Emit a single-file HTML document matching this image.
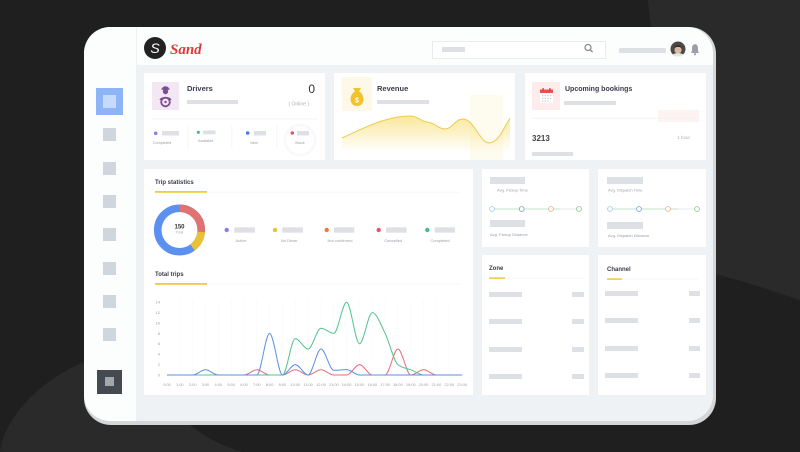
<!DOCTYPE html>
<html><head><meta charset="utf-8"><style>
html,body{margin:0;padding:0;background:#1f1f1f;}
svg{display:block;}
text{font-family:"Liberation Sans",sans-serif;}
</style></head><body>
<svg width="800" height="452" viewBox="0 0 800 452" xmlns="http://www.w3.org/2000/svg">
<defs>
<clipPath id="tab"><rect x="84" y="27" width="629" height="394" rx="26"/></clipPath>
<linearGradient id="rev" x1="0" y1="116" x2="0" y2="152" gradientUnits="userSpaceOnUse">
<stop offset="0" stop-color="#f5d44a" stop-opacity="0.55"/>
<stop offset="1" stop-color="#f5d44a" stop-opacity="0"/>
</linearGradient>
</defs>
<rect width="800" height="452" fill="#1f1f1f"/>
<path d="M648,0 L800,0 L800,300 C770,290 740,280 700,270 L660,80 C655,50 650,25 648,0 Z" fill="#2a2a2a"/>
<path d="M0,452 C3,425 30,385 84,362 L150,345 L150,420 L190,425 C210,440 225,447 242,452 Z" fill="#2a2a2a"/>

<!-- tablet -->
<rect x="84" y="27" width="632" height="398" rx="27" fill="#d4d6d8"/>
<rect x="84" y="27" width="629" height="394" rx="26" fill="#fcfdfd"/>
<g clip-path="url(#tab)">
<rect x="137" y="65" width="576" height="356" fill="#eef2f5"/>
<rect x="136" y="27" width="1" height="394" fill="#eef1f4"/>
</g>

<!-- sidebar -->
<rect x="96" y="88" width="27" height="27" fill="#8db5f6"/>
<rect x="103" y="95" width="13" height="13" fill="#c6dafb"/>
<rect x="103" y="128" width="13" height="13" fill="#d0d6dd"/>
<rect x="103" y="162" width="13" height="13" fill="#d0d6dd"/>
<rect x="103" y="195" width="13" height="13" fill="#d0d6dd"/>
<rect x="103" y="228" width="13" height="13" fill="#d0d6dd"/>
<rect x="103" y="262" width="13" height="13" fill="#d0d6dd"/>
<rect x="103" y="295" width="13" height="13" fill="#d0d6dd"/>
<rect x="103" y="328" width="13" height="13" fill="#d0d6dd"/>
<rect x="97" y="370" width="25" height="24" fill="#454a50"/>
<rect x="105" y="377" width="9" height="9" fill="#a3a7ab"/>

<!-- header -->
<circle cx="155" cy="48" r="11" fill="#222"/>
<text x="155" y="53" font-family="Liberation Serif" font-style="italic" font-size="14" fill="#fff" text-anchor="middle">S</text>
<text x="170" y="54" style="font-family:'Liberation Serif',serif" font-style="italic" font-weight="bold" font-size="15" fill="#d93a3a">Sand</text>
<rect x="432.5" y="41.5" width="173" height="17" fill="#fff" stroke="#e8ecef"/>
<rect x="442" y="47" width="23" height="5" fill="#dde1e6"/>
<circle cx="588" cy="47.5" r="3" fill="none" stroke="#8a8f95" stroke-width="1.3"/>
<line x1="590.2" y1="49.7" x2="592.6" y2="52.1" stroke="#8a8f95" stroke-width="1.4"/>
<rect x="619" y="48" width="47" height="5" rx="1" fill="#dde1e6"/>
<circle cx="678" cy="49" r="7.5" fill="#4d4844"/>
<circle cx="678" cy="50" r="3.6" fill="#d9b9a2"/>
<path d="M674.5,48 C675,44.5 681,44.5 681.5,48 C680,46.5 676,46.5 674.5,48 Z" fill="#2e2a27"/>
<path d="M672.5,55 C674,52.5 682,52.5 683.5,55 L681,56.5 L675,56.5 Z" fill="#e6e6e6"/>
<path d="M691,53 L699,53 L698,51 L698,48 C698,45.5 696.5,44.3 695,44.3 C693.5,44.3 692,45.5 692,48 L692,51 Z" fill="#9aa0a6"/>
<circle cx="695" cy="54.2" r="1.1" fill="#9aa0a6"/>

<!-- cards row 1 -->
<rect x="144" y="73" width="181" height="87" fill="#fff"/>
<rect x="334" y="73" width="181" height="87" fill="#fff"/>
<rect x="525" y="73" width="181" height="87" fill="#fff"/>

<!-- drivers -->
<rect x="152" y="82" width="27" height="28" fill="#f3e7f3"/>
<path d="M162,89 C162,85.5 169,85.5 169,89 Z" fill="#7a4d8f"/>
<rect x="161.5" y="88.5" width="8" height="1.3" fill="#7a4d8f"/>
<circle cx="165.5" cy="91.5" r="2.7" fill="#7a4d8f"/>
<path d="M159.5,100 C160,96 171,96 171.5,100 Z" fill="#7a4d8f"/>
<circle cx="165.5" cy="102" r="4.3" fill="#f3e7f3" stroke="#7a4d8f" stroke-width="1.8"/>
<circle cx="165.5" cy="102" r="1.2" fill="#7a4d8f"/>
<text x="187" y="91" font-size="7.5" font-weight="bold" fill="#3b3b4a">Drivers</text>
<rect x="187" y="100" width="51" height="4" fill="#dde1e6"/>
<text x="315" y="93" font-size="12" fill="#333" text-anchor="end">0</text>
<text x="309" y="105.5" font-size="5" fill="#aab0b6" text-anchor="end">( Online )</text>
<circle cx="300" cy="140" r="15" fill="none" stroke="#f9f9fa" stroke-width="3"/>
<rect x="152" y="118.5" width="166" height="0.8" fill="#f0f1f3"/>
<rect x="187.5" y="125" width="0.7" height="23" fill="#f0f1f3"/>
<rect x="231.5" y="125" width="0.7" height="23" fill="#f0f1f3"/>
<rect x="276.5" y="125" width="0.7" height="23" fill="#f0f1f3"/>
<circle cx="155.7" cy="133.3" r="1.8" fill="#8a7fe0"/>
<rect x="162" y="131" width="17" height="4.5" fill="#dde1e6"/>
<text x="162" y="144" font-size="3.8" fill="#9aa0a6" text-anchor="middle">Completed</text>
<circle cx="198.3" cy="132.3" r="1.6" fill="#3fbf8f"/>
<rect x="203" y="130.5" width="12.5" height="3.8" fill="#dde1e6"/>
<text x="205.7" y="142" font-size="3.8" fill="#9aa0a6" text-anchor="middle">Available</text>
<circle cx="247.7" cy="133" r="1.8" fill="#4a7de0"/>
<rect x="254" y="131" width="12" height="4.5" fill="#dde1e6"/>
<text x="254" y="144" font-size="3.8" fill="#9aa0a6" text-anchor="middle">New</text>
<circle cx="292.3" cy="133" r="1.8" fill="#e8556a"/>
<rect x="297" y="131" width="12" height="4.5" fill="#dde1e6"/>
<text x="300" y="144" font-size="3.8" fill="#9aa0a6" text-anchor="middle">Block</text>

<!-- revenue -->
<rect x="342" y="77" width="30" height="34" fill="#fdf8e8"/>
<rect x="470" y="95" width="33" height="65" fill="#fefbef"/>
<path d="M353,88 L361,88 L359,91.5 L355,91.5 Z" fill="#f3c32e"/>
<path d="M355,91.5 L359,91.5 C365,94 365.5,106 357,106 C348.5,106 349,94 355,91.5 Z" fill="#f3c32e"/>
<text x="357" y="102.5" font-size="7" font-weight="bold" fill="#fff" text-anchor="middle">$</text>
<text x="377" y="91" font-size="7.5" font-weight="bold" fill="#3b3b4a">Revenue</text>
<rect x="377" y="100" width="52" height="4" fill="#dde1e6"/>
<path d="M342,138 C360,130 385,116 410,116 C418,116 420,121 427,122 C436,123 438,129 445,129 C452,129 455,119 463,119 C474,119 480,143 489,143 C499,143 505,125 510,118 L510,152 L342,152 Z" fill="url(#rev)"/>
<path d="M342,138 C360,130 385,116 410,116 C418,116 420,121 427,122 C436,123 438,129 445,129 C452,129 455,119 463,119 C474,119 480,143 489,143 C499,143 505,125 510,118" fill="none" stroke="#ebcb4f" stroke-width="1"/>

<!-- upcoming bookings -->
<rect x="532" y="82" width="28" height="28" fill="#fdeceb"/>
<rect x="540" y="92" width="13" height="11" fill="#fff"/>
<rect x="540" y="89.5" width="13" height="3.5" fill="#e8524f"/>
<rect x="542.5" y="88" width="1.2" height="3" fill="#c43c3a"/>
<rect x="549.3" y="88" width="1.2" height="3" fill="#c43c3a"/>
<g fill="#c9cdd2">
<rect x="542" y="95" width="1.4" height="1.2"/><rect x="544.6" y="95" width="1.4" height="1.2"/><rect x="547.2" y="95" width="1.4" height="1.2"/><rect x="549.8" y="95" width="1.4" height="1.2"/>
<rect x="542" y="97.8" width="1.4" height="1.2"/><rect x="544.6" y="97.8" width="1.4" height="1.2"/><rect x="547.2" y="97.8" width="1.4" height="1.2"/><rect x="549.8" y="97.8" width="1.4" height="1.2"/>
<rect x="542" y="100.4" width="1.4" height="1.2"/><rect x="544.6" y="100.4" width="1.4" height="1.2"/><rect x="547.2" y="100.4" width="1.4" height="1.2"/>
</g>
<text x="565" y="91" font-size="7" font-weight="bold" fill="#3b3b4a">Upcoming bookings</text>
<rect x="564" y="101" width="52" height="4" fill="#dde1e6"/>
<rect x="658" y="110" width="41" height="12" fill="#fdf3f3"/>
<rect x="532" y="117.8" width="168" height="0.8" fill="#f0f1f3"/>
<text x="532" y="141" font-size="8" font-weight="bold" fill="#444">3213</text>
<text x="690" y="139" font-size="4.5" fill="#aab0b6" text-anchor="end">1 hour</text>
<rect x="532" y="152" width="41" height="4" fill="#dde1e6"/>

<!-- trip statistics card -->
<rect x="144" y="169" width="329" height="226" fill="#fff"/>
<text x="155" y="184" font-size="6" font-weight="bold" fill="#3b3b4a">Trip statistics</text>
<rect x="155" y="191.8" width="305" height="0.7" fill="#f2f3f5"/>
<rect x="155" y="191" width="52" height="1.8" fill="#f2cb3a"/>
<g transform="rotate(-90 179.5 230)">
<circle cx="179.5" cy="230" r="21.75" fill="none" stroke="#5b8ff0" stroke-width="7.6"/>
<circle cx="179.5" cy="230" r="21.75" fill="none" stroke="#e07272" stroke-width="7.6" stroke-dasharray="36.1 200"/>
<circle cx="179.5" cy="230" r="21.75" fill="none" stroke="#e8c232" stroke-width="7.6" stroke-dasharray="0 36.1 18.2 200"/>
</g>
<text x="179.5" y="228.5" font-size="6" font-weight="bold" fill="#333" text-anchor="middle">150</text>
<text x="179.5" y="233.5" font-size="3.5" fill="#aab0b6" text-anchor="middle">Total</text>

<circle cx="226.7" cy="230" r="2.2" fill="#8a7fe0"/>
<rect x="234.3" y="227.3" width="20.7" height="5.4" fill="#dde1e6"/>
<text x="241" y="242" font-size="4" fill="#9aa0a6" text-anchor="middle">Active</text>
<circle cx="275" cy="230" r="2.2" fill="#e8c232"/>
<rect x="282.3" y="227.3" width="20.7" height="5.4" fill="#dde1e6"/>
<text x="289.3" y="242" font-size="4" fill="#9aa0a6" text-anchor="middle">No Driver</text>
<circle cx="326.7" cy="230" r="2.2" fill="#f07a30"/>
<rect x="334" y="227.3" width="20.3" height="5.4" fill="#dde1e6"/>
<text x="340" y="242" font-size="4" fill="#9aa0a6" text-anchor="middle">Not confirmed</text>
<circle cx="378.7" cy="230" r="2.2" fill="#e8556a"/>
<rect x="386" y="227.3" width="20.7" height="5.4" fill="#dde1e6"/>
<text x="393.3" y="242" font-size="4" fill="#9aa0a6" text-anchor="middle">Cancelled</text>
<circle cx="427.3" cy="230" r="2.2" fill="#3fbf8f"/>
<rect x="434.7" y="227.3" width="20.3" height="5.4" fill="#dde1e6"/>
<text x="440" y="242" font-size="4" fill="#9aa0a6" text-anchor="middle">Completed</text>

<text x="155" y="276" font-size="6" font-weight="bold" fill="#3b3b4a">Total trips</text>
<rect x="155" y="283.8" width="305" height="0.7" fill="#f2f3f5"/>
<rect x="155" y="283" width="52" height="1.8" fill="#f2cb3a"/>

<!-- chart grid (very faint) -->
<g stroke="#f6f7f9" stroke-width="0.5">
<line x1="179.8" y1="300" x2="179.8" y2="375"/><line x1="192.7" y1="300" x2="192.7" y2="375"/><line x1="205.5" y1="300" x2="205.5" y2="375"/><line x1="218.3" y1="300" x2="218.3" y2="375"/><line x1="231.2" y1="300" x2="231.2" y2="375"/><line x1="244" y1="300" x2="244" y2="375"/><line x1="256.8" y1="300" x2="256.8" y2="375"/><line x1="269.6" y1="300" x2="269.6" y2="375"/><line x1="282.5" y1="300" x2="282.5" y2="375"/><line x1="295.3" y1="300" x2="295.3" y2="375"/><line x1="308.1" y1="300" x2="308.1" y2="375"/><line x1="321" y1="300" x2="321" y2="375"/><line x1="333.8" y1="300" x2="333.8" y2="375"/><line x1="346.6" y1="300" x2="346.6" y2="375"/><line x1="359.5" y1="300" x2="359.5" y2="375"/><line x1="372.3" y1="300" x2="372.3" y2="375"/><line x1="385.1" y1="300" x2="385.1" y2="375"/><line x1="397.9" y1="300" x2="397.9" y2="375"/><line x1="410.8" y1="300" x2="410.8" y2="375"/><line x1="423.6" y1="300" x2="423.6" y2="375"/><line x1="436.4" y1="300" x2="436.4" y2="375"/><line x1="449.3" y1="300" x2="449.3" y2="375"/>
</g>
<g font-size="4" fill="#9aa0a6" text-anchor="end">
<text x="160" y="303.6">14</text><text x="160" y="314">12</text><text x="160" y="324.4">10</text><text x="160" y="334.8">8</text><text x="160" y="345.2">6</text><text x="160" y="355.6">4</text><text x="160" y="366">2</text><text x="160" y="376.4">0</text>
</g>
<g font-size="3.9" fill="#9aa0a6" text-anchor="middle">
<text x="167" y="386">0:00</text><text x="179.8" y="386">1:00</text><text x="192.7" y="386">2:00</text><text x="205.5" y="386">3:00</text><text x="218.3" y="386">4:00</text><text x="231.2" y="386">5:00</text><text x="244" y="386">6:00</text><text x="256.8" y="386">7:00</text><text x="269.6" y="386">8:00</text><text x="282.5" y="386">9:00</text><text x="295.3" y="386">10:00</text><text x="308.1" y="386">11:00</text><text x="321" y="386">12:00</text><text x="333.8" y="386">13:00</text><text x="346.6" y="386">14:00</text><text x="359.5" y="386">15:00</text><text x="372.3" y="386">16:00</text><text x="385.1" y="386">17:00</text><text x="397.9" y="386">18:00</text><text x="410.8" y="386">19:00</text><text x="423.6" y="386">20:00</text><text x="436.4" y="386">21:00</text><text x="449.3" y="386">22:00</text><text x="462.1" y="386">23:00</text>
</g>
<!-- series -->
<path d="M167,375 L244,375 C248.3,375 252.5,369.8 256.8,369.8 C261.1,369.8 265.3,375 269.6,375 L282.5,375 C286.8,375 291,369.8 295.3,369.8 C299.6,369.8 303.8,375 308.1,375 C312.4,375 316.7,369.8 321,369.8 C325.3,369.8 329.5,375 333.8,375 L346.6,375 C350.9,375 355.2,364.6 359.5,364.6 C363.8,364.6 368,375 372.3,375 L385.1,375 C389.4,375 393.7,349 397.9,349 C402.2,349 406.5,375 410.8,375 C415.1,375 419.3,369.8 423.6,369.8 C427.9,369.8 432.1,375 436.4,375 L462.1,375" fill="none" stroke="#e36d7c" stroke-width="1"/>
<path d="M167,375 L282.5,375 C286.8,375 291,338.6 295.3,338.6 C299.6,338.6 303.8,349 308.1,349 C312.4,349 316.7,328.2 321,328.2 C325.3,328.2 329.5,333.4 333.8,333.4 C338.1,333.4 342.3,302.2 346.6,302.2 C350.9,302.2 355.2,343.8 359.5,343.8 C363.8,343.8 368,312.6 372.3,312.6 C376.6,312.6 380.8,324.7 385.1,333.4 C389.4,342.1 393.7,361.2 397.9,364.6 C402.2,368 406.5,368.5 410.8,369.8 C415.1,371.1 419.3,375 423.6,375 L462.1,375" fill="none" stroke="#55c48f" stroke-width="1"/>
<path d="M167,375 L192.7,375 C197,375 201.2,369.8 205.5,369.8 C209.8,369.8 214,375 218.3,375 L256.8,375 C261.1,375 265.3,333.4 269.6,333.4 C273.9,333.4 278.2,375 282.5,375 C286.8,375 291,364.6 295.3,364.6 C299.6,364.6 303.8,375 308.1,375 C312.4,375 316.7,349 321,349 C325.3,349 329.5,370.3 333.8,370.3 C338.1,370.3 342.3,369.6 346.6,369.6 C350.9,369.6 355.2,375 359.5,375 L462.1,375" fill="none" stroke="#5c8fe6" stroke-width="1"/>

<!-- right panels -->
<rect x="482" y="169" width="107" height="78" fill="#fff"/>
<rect x="598" y="169" width="108" height="78" fill="#fff"/>
<rect x="490" y="177" width="35" height="7" fill="#dde1e6"/>
<text x="497" y="191.5" font-size="4" fill="#9aa0a6">Avg. Pickup Time</text>
<line x1="492" y1="209" x2="560" y2="209" stroke="#bfe5c8" stroke-width="0.9"/>
<line x1="560" y1="209" x2="579" y2="209" stroke="#e6e8eb" stroke-width="0.9"/>
<circle cx="492" cy="209" r="2.4" fill="#fff" stroke="#9cc8f0" stroke-width="0.8"/>
<circle cx="521.7" cy="209" r="2.4" fill="#fff" stroke="#6b98e6" stroke-width="0.8"/>
<circle cx="551" cy="209" r="2.4" fill="#fff" stroke="#f2a97c" stroke-width="0.8"/>
<circle cx="579" cy="209" r="2.4" fill="#fff" stroke="#7ccc82" stroke-width="0.8"/>
<rect x="490" y="220" width="35" height="7" fill="#dde1e6"/>
<text x="490" y="236" font-size="4" fill="#9aa0a6">Avg. Pickup Distance</text>

<rect x="607" y="177" width="36" height="7" fill="#dde1e6"/>
<text x="608" y="191.5" font-size="4" fill="#9aa0a6">Avg. Dispatch Time</text>
<line x1="610" y1="209" x2="678" y2="209" stroke="#bfe5c8" stroke-width="0.9"/>
<line x1="678" y1="209" x2="697" y2="209" stroke="#e6e8eb" stroke-width="0.9"/>
<circle cx="610" cy="209" r="2.4" fill="#fff" stroke="#9cc8f0" stroke-width="0.8"/>
<circle cx="639" cy="209" r="2.4" fill="#fff" stroke="#6b98e6" stroke-width="0.8"/>
<circle cx="668" cy="209" r="2.4" fill="#fff" stroke="#f2a97c" stroke-width="0.8"/>
<circle cx="697" cy="209" r="2.4" fill="#fff" stroke="#7ccc82" stroke-width="0.8"/>
<rect x="607" y="222" width="36" height="7" fill="#dde1e6"/>
<text x="608" y="237" font-size="4" fill="#9aa0a6">Avg. Dispatch Distance</text>

<rect x="482" y="255" width="107" height="140" fill="#fff"/>
<rect x="598" y="255" width="108" height="140" fill="#fff"/>
<text x="489" y="270" font-size="6" font-weight="bold" fill="#3b3b4a">Zone</text>
<rect x="489" y="277.8" width="94" height="0.7" fill="#f2f3f5"/>
<rect x="489" y="277.3" width="16" height="1.6" fill="#f2cb3a"/>
<rect x="489" y="292" width="33" height="5" fill="#dde1e6"/><rect x="572" y="292" width="12" height="5" fill="#dde1e6"/>
<rect x="489" y="319" width="33" height="5" fill="#dde1e6"/><rect x="572" y="319" width="12" height="5" fill="#dde1e6"/>
<rect x="489" y="347" width="33" height="5" fill="#dde1e6"/><rect x="572" y="347" width="12" height="5" fill="#dde1e6"/>
<rect x="489" y="374" width="33" height="5" fill="#dde1e6"/><rect x="572" y="374" width="12" height="5" fill="#dde1e6"/>
<text x="607" y="271" font-size="6" font-weight="bold" fill="#3b3b4a">Channel</text>
<rect x="607" y="278.8" width="91" height="0.7" fill="#f2f3f5"/>
<rect x="607" y="278.3" width="15" height="1.6" fill="#f2cb3a"/>
<rect x="605" y="291" width="33" height="5" fill="#dde1e6"/><rect x="689" y="291" width="11" height="5" fill="#dde1e6"/>
<rect x="605" y="318" width="33" height="5" fill="#dde1e6"/><rect x="689" y="318" width="11" height="5" fill="#dde1e6"/>
<rect x="605" y="346" width="33" height="5" fill="#dde1e6"/><rect x="689" y="346" width="11" height="5" fill="#dde1e6"/>
<rect x="605" y="373" width="33" height="5" fill="#dde1e6"/><rect x="689" y="373" width="11" height="5" fill="#dde1e6"/>
</svg>
</body></html>
